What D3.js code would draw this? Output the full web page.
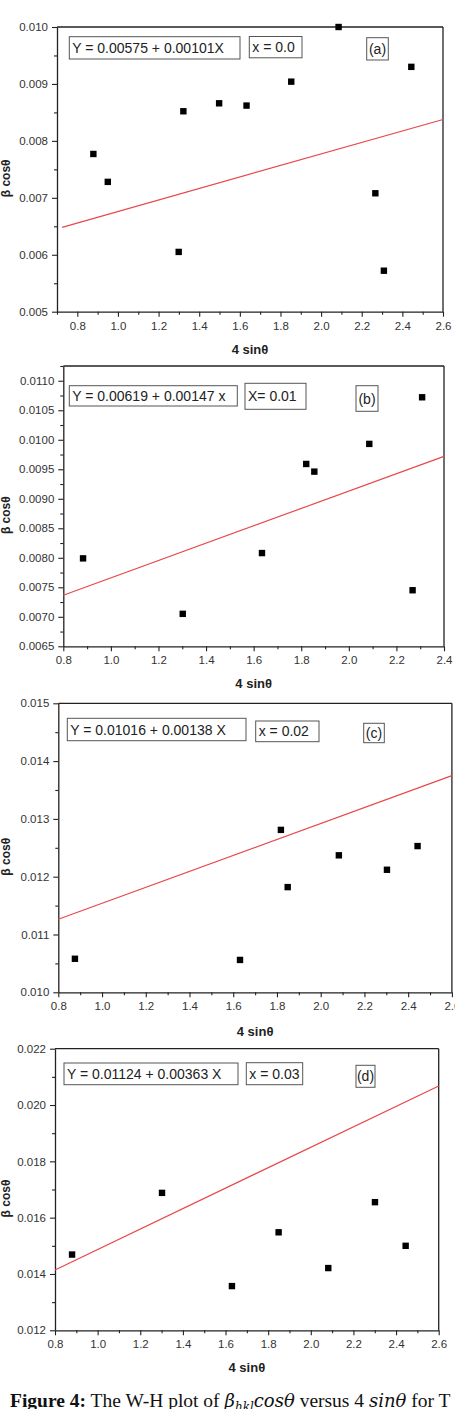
<!DOCTYPE html>
<html><head><meta charset="utf-8">
<script src="https://cdn.jsdelivr.net/npm/d3@7"></script>
<style>
html,body{margin:0;padding:0;background:#fff;}
svg{display:block;}
</style></head>
<body>
<svg id="c" width="455" height="1409"></svg>
<script>
// ---- Data ----
const xA = [0.879, 0.950, 1.299, 1.322, 1.498, 1.633, 1.853, 2.086, 2.267, 2.309, 2.444];
const yA = [0.00777, 0.00728, 0.00605, 0.00852, 0.00866, 0.00862, 0.00904, 0.01000, 0.00708, 0.00572, 0.00930];
const xB = [0.883, 1.302, 1.635, 1.821, 1.855, 2.086, 2.268, 2.308];
const yB = [0.00799, 0.00705, 0.00808, 0.00959, 0.00946, 0.00993, 0.00745, 0.01072];
const xC = [0.876, 1.631, 1.818, 1.849, 2.083, 2.303, 2.443];
const yC = [0.01058, 0.01056, 0.01281, 0.01182, 0.01237, 0.01212, 0.01253];
const xD = [0.880, 1.302, 1.630, 1.849, 2.082, 2.301, 2.445];
const yD = [0.01469, 0.01688, 0.01357, 0.01548, 0.01421, 0.01655, 0.01500];
// fitted lines: intercept, slope (from the equations shown)
const fitIntercepts = [0.00575, 0.00619, 0.01016, 0.01124];
const fitSlopes = [0.00101, 0.00147, 0.00138, 0.00363];
const equationLabels = ["Y = 0.00575 + 0.00101X", "Y = 0.00619 + 0.00147 x", "Y = 0.01016 + 0.00138 X", "Y = 0.01124 + 0.00363 X"];
const compositionLabels = ["x = 0.0", "X= 0.01", "x = 0.02", "x = 0.03"];
const panelLabels = ["(a)", "(b)", "(c)", "(d)"];
const xDomains = [[0.7, 2.6], [0.8, 2.4], [0.8, 2.6], [0.8, 2.6]];
const yDomains = [[0.005, 0.010], [0.0065, 0.01125], [0.010, 0.015], [0.012, 0.022]];
const xMajorTicks = [
  [0.8, 1.0, 1.2, 1.4, 1.6, 1.8, 2.0, 2.2, 2.4, 2.6],
  [0.8, 1.0, 1.2, 1.4, 1.6, 1.8, 2.0, 2.2, 2.4],
  [0.8, 1.0, 1.2, 1.4, 1.6, 1.8, 2.0, 2.2, 2.4, 2.6],
  [0.8, 1.0, 1.2, 1.4, 1.6, 1.8, 2.0, 2.2, 2.4, 2.6]];
const xMinorTicks = [
  [0.7, 0.9, 1.1, 1.3, 1.5, 1.7, 1.9, 2.1, 2.3, 2.5],
  [0.9, 1.1, 1.3, 1.5, 1.7, 1.9, 2.1, 2.3],
  [0.9, 1.1, 1.3, 1.5, 1.7, 1.9, 2.1, 2.3, 2.5],
  [0.9, 1.1, 1.3, 1.5, 1.7, 1.9, 2.1, 2.3, 2.5]];
const yMajorTicks = [
  [0.005, 0.006, 0.007, 0.008, 0.009, 0.010],
  [0.0065, 0.0070, 0.0075, 0.0080, 0.0085, 0.0090, 0.0095, 0.0100, 0.0105, 0.0110],
  [0.010, 0.011, 0.012, 0.013, 0.014, 0.015],
  [0.012, 0.014, 0.016, 0.018, 0.020, 0.022]];
const yMinorTicks = [
  [0.0055, 0.0065, 0.0075, 0.0085, 0.0095],
  [0.00675, 0.00725, 0.00775, 0.00825, 0.00875, 0.00925, 0.00975, 0.01025, 0.01075, 0.01125],
  [0.0105, 0.0115, 0.0125, 0.0135, 0.0145],
  [0.013, 0.015, 0.017, 0.019, 0.021]];
const yTickFormats = [".3f", ".4f", ".3f", ".3f"];
const fitStarts = [0.725, 0.8, 0.8, 0.8];

// ---- Layout ----
const frames = [
  {l: 57, r: 443, t: 27, b: 311.7, xl: 349, eq: [69.3, 36.7, 170.7, 22.3], cp: [249.3, 36.5, 52.7, 21.3], pl: [366.7, 37.7, 21.6, 22.3]},
  {l: 63.3, r: 444, t: 366, b: 646.3, xl: 683.3, eq: [69.3, 385.7, 168, 20.3], cp: [245, 383.3, 61, 26], pl: [356, 385.7, 22, 25.6]},
  {l: 58.3, r: 451.9, t: 703.3, b: 992.3, xl: 1031, eq: [67.3, 718.3, 178.7, 22.4], cp: [255.7, 721, 63.3, 20.7], pl: [363.7, 723.3, 20.6, 19.4]},
  {l: 55, r: 438.7, t: 1048.7, b: 1330.3, xl: 1367.3, eq: [64, 1063, 174, 21.7], cp: [246.3, 1062.7, 56.4, 22], pl: [356, 1065.3, 19, 22]}
];
const xsAll = [xA, xB, xC, xD], ysAll = [yA, yB, yC, yD];

const svg = d3.select("#c");
const FONT = "'Liberation Sans', Arial, sans-serif";

frames.forEach((f, i) => {
  const x = d3.scaleLinear().domain(xDomains[i]).range([f.l, f.r]);
  const y = d3.scaleLinear().domain(yDomains[i]).range([f.b, f.t]);
  const g = svg.append("g");

  // frame top & right
  g.append("line").attr("x1", f.l).attr("x2", f.r).attr("y1", f.t).attr("y2", f.t).attr("stroke", "#222").attr("stroke-width", 1.3);
  g.append("line").attr("x1", f.r).attr("x2", f.r).attr("y1", f.t).attr("y2", f.b).attr("stroke", "#222").attr("stroke-width", 1.3);

  // bottom axis
  const xAxis = d3.axisBottom(x).tickValues(xMajorTicks[i]).tickFormat(d3.format(".1f")).tickSize(5).tickPadding(5).tickSizeOuter(0);
  const gx = g.append("g").attr("transform", `translate(0,${f.b})`).call(xAxis);
  const xMinor = d3.axisBottom(x).tickValues(xMinorTicks[i]).tickFormat("").tickSize(3).tickSizeOuter(0);
  const gxm = g.append("g").attr("transform", `translate(0,${f.b})`).call(xMinor);
  gxm.select(".domain").remove();

  // left axis
  const yAxis = d3.axisLeft(y).tickValues(yMajorTicks[i]).tickFormat(d3.format(yTickFormats[i])).tickSize(5).tickPadding(4).tickSizeOuter(0);
  const gy = g.append("g").attr("transform", `translate(${f.l},0)`).call(yAxis);
  const yMinor = d3.axisLeft(y).tickValues(yMinorTicks[i]).tickFormat("").tickSize(3).tickSizeOuter(0);
  const gym = g.append("g").attr("transform", `translate(${f.l},0)`).call(yMinor);
  gym.select(".domain").remove();

  [gx, gxm, gy, gym].forEach(a => {
    a.selectAll("path.domain").attr("stroke", "#222").attr("stroke-width", 1.3);
    a.selectAll(".tick line").attr("stroke", "#222").attr("stroke-width", 1.1);
    a.selectAll(".tick text").attr("font-family", FONT).attr("font-size", 11.5).attr("fill", "#333");
  });

  // fit line
  const xs = [fitStarts[i], xDomains[i][1]];
  g.append("line")
    .attr("x1", x(xs[0])).attr("y1", y(fitIntercepts[i] + fitSlopes[i] * xs[0]))
    .attr("x2", x(xs[1])).attr("y2", y(fitIntercepts[i] + fitSlopes[i] * xs[1]))
    .attr("stroke", "#e8484a").attr("stroke-width", 1.2);

  // points
  const pts = xsAll[i].map((v, k) => [v, ysAll[i][k]]);
  g.selectAll("rect.pt").data(pts).join("rect").attr("class", "pt")
    .attr("x", d => x(d[0]) - 3.2).attr("y", d => y(d[1]) - 3.2)
    .attr("width", 6.4).attr("height", 6.4).attr("fill", "#000");

  // boxes
  const boxes = [[f.eq, equationLabels[i], "start"], [f.cp, compositionLabels[i], "start"], [f.pl, panelLabels[i], "middle"]];
  boxes.forEach(([bb, txt, anchor]) => {
    g.append("rect").attr("x", bb[0]).attr("y", bb[1]).attr("width", bb[2]).attr("height", bb[3])
      .attr("fill", "#fff").attr("stroke", "#555").attr("stroke-width", 1);
    g.append("text")
      .attr("x", anchor === "middle" ? bb[0] + bb[2] / 2 : bb[0] + 3)
      .attr("y", bb[1] + bb[3] / 2 + 5)
      .attr("text-anchor", anchor)
      .attr("font-family", FONT).attr("font-size", 14).attr("fill", "#222").text(txt);
  });

  // axis titles
  g.append("text").attr("x", (f.l + f.r) / 2).attr("y", f.xl + 4.5).attr("text-anchor", "middle")
    .attr("font-family", FONT).attr("font-weight", "bold").attr("font-size", 13).attr("fill", "#222").text("4 sinθ");
  const cy = (f.t + f.b) / 2 + 9;
  g.append("text").attr("transform", `translate(10,${cy}) rotate(-90)`).attr("text-anchor", "middle")
    .attr("font-family", FONT).attr("font-weight", "bold").attr("font-size", 12).attr("fill", "#222").text("β cosθ");
});

// caption
const MATH = "'DejaVu Serif', serif";
const cap = svg.append("text").attr("x", 10).attr("y", 1407)
  .attr("font-family", "'Liberation Serif', 'Times New Roman', serif").attr("font-size", 19.5).attr("fill", "#111");
cap.append("tspan").attr("font-weight", "bold").text("Figure 4:");
cap.append("tspan").text(" The W-H plot of ");
cap.append("tspan").attr("font-family", MATH).attr("font-style", "italic").attr("font-size", 18).text("β");
cap.append("tspan").attr("font-family", MATH).attr("font-style", "italic").attr("font-size", 12).attr("dy", 4).text("hkl");
cap.append("tspan").attr("font-family", MATH).attr("font-style", "italic").attr("font-size", 18).attr("dy", -4).text("cosθ");
cap.append("tspan").text(" versus 4 ");
cap.append("tspan").attr("font-family", MATH).attr("font-style", "italic").attr("font-size", 18).text("sinθ");
cap.append("tspan").text(" for T");
</script>
</body></html>
